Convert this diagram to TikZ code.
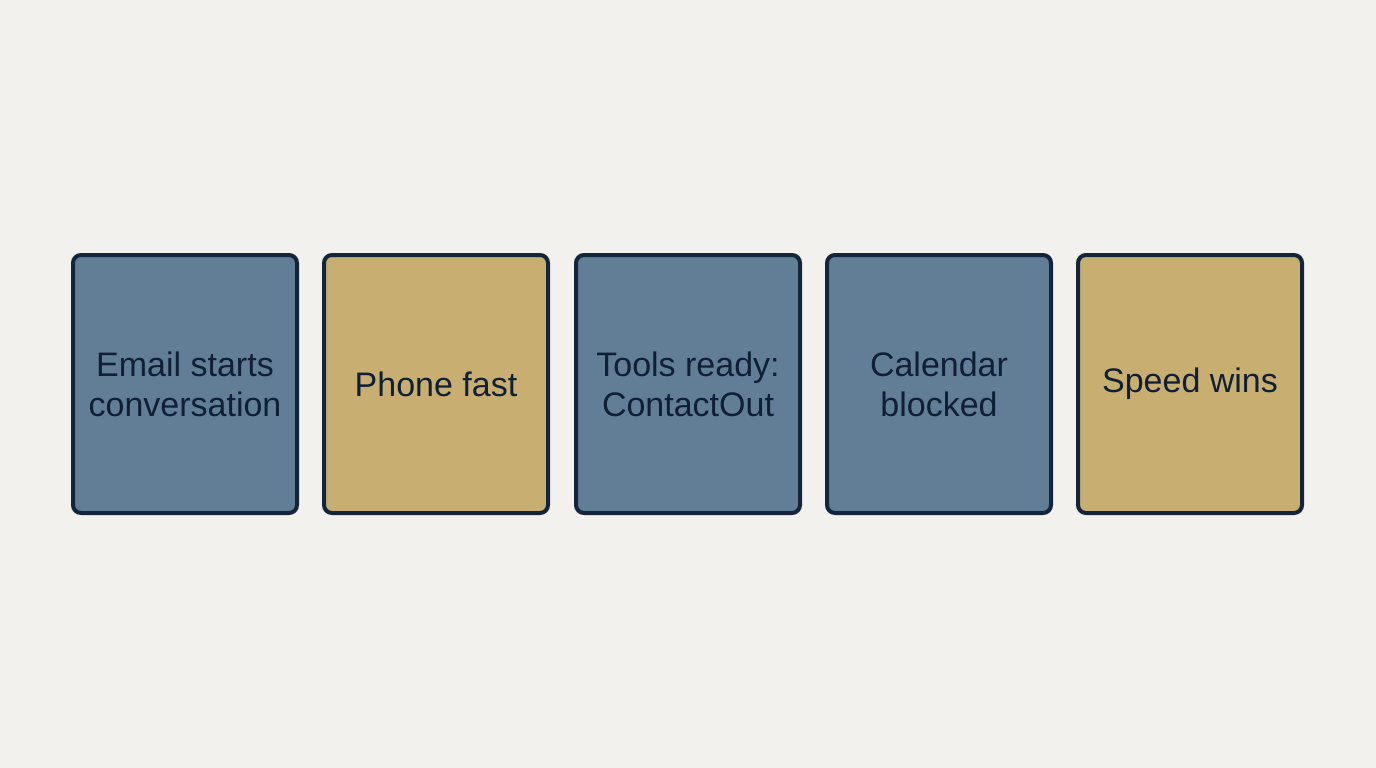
\documentclass[tikz,border=0pt]{standalone}
\usepackage{fontspec}
\setmainfont{Liberation Sans}
\definecolor{bg}{HTML}{F2F1EE}
\definecolor{bluefill}{HTML}{627D96}
\definecolor{goldfill}{HTML}{C9AE72}
\definecolor{edge}{HTML}{13253A}
\definecolor{ink}{HTML}{0F2036}
\tikzset{
  card/.style={draw=edge, line width=4pt, rounded corners=8pt, minimum width=224pt, minimum height=258pt, inner sep=0pt, align=center, text=ink, font=\fontsize{34}{40}\selectfont},
  bluecard/.style={card, fill=bluefill},
  goldcard/.style={card, fill=goldfill}
}
\begin{document}
\begin{tikzpicture}[x=1pt,y=-1pt]
\fill[bg] (0,0) rectangle (1376,768);
\useasboundingbox (0,0) rectangle (1376,768);
\node[bluecard] (n1) at (185,384) {Email starts\\conversation};
\node[goldcard] (n2) at (436,384) {Phone fast};
\node[bluecard] (n3) at (688,384) {Tools ready:\\ContactOut};
\node[bluecard] (n4) at (939,384) {Calendar\\blocked};
\node[goldcard] (n5) at (1190,384) {Speed wins};
\end{tikzpicture}
\end{document}
